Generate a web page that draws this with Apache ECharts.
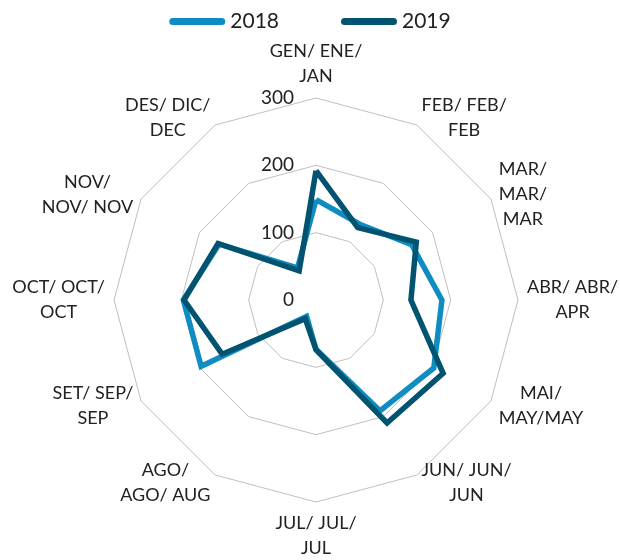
<!DOCTYPE html>
<html>
<head>
<meta charset="utf-8">
<script src="https://cdn.jsdelivr.net/npm/echarts@6/dist/echarts.min.js"></script>
<style>html,body{margin:0;padding:0;background:#fff;}</style>
</head>
<body>
<div id="radar_con" style="width:620px;height:560px;"></div>
<script>
var months = [
    'GEN/ ENE/\nJAN', 'FEB/ FEB/\nFEB', 'MAR/\nMAR/\nMAR', 'ABR/ ABR/\nAPR',
    'MAI/\nMAY/MAY', 'JUN/ JUN/\nJUN', 'JUL/ JUL/\nJUL', 'AGO/\nAGO/ AUG',
    'SET/ SEP/\nSEP', 'OCT/ OCT/\nOCT', 'NOV/\nNOV/ NOV', 'DES/ DIC/\nDEC'
];
var values2018 = [149, 130, 164, 187, 202, 190, 73, 28, 197, 197, 166, 55];
var values2019 = [192, 124, 172, 141, 218, 211, 74, 32, 161, 196, 168, 50];
var ringTicks = [0, 100, 200, 300];

// echarts radar runs counter-clockwise, excel runs clockwise
function clockwise(arr) {
    return [arr[0]].concat(arr.slice(1).reverse());
}

var axisMax = ringTicks[ringTicks.length - 1];
var step = ringTicks[1] - ringTicks[0];

var option = {
    animation: false,
    textStyle: { fontFamily: 'Lato' },
    legend: {
        top: 6,
        left: 'center',
        itemWidth: 56,
        itemHeight: 7,
        itemGap: 62,
        icon: 'path://M3.5,0 H52.5 A3.5,3.5 0 0 1 52.5,7 H3.5 A3.5,3.5 0 0 1 3.5,0 Z',
        textStyle: { fontSize: 21, color: '#222', fontFamily: 'Lato' },
        data: ['2018', '2019']
    },
    radar: {
        center: [316, 300],
        radius: 202,
        startAngle: 90,
        shape: 'polygon',
        splitNumber: ringTicks.length - 1,
        axisNameGap: 9,
        indicator: clockwise(months).map(function (m) {
            return { name: m, min: 0, max: axisMax };
        }),
        axisName: {
            color: '#222',
            fontSize: 18,
            fontFamily: 'Lato',
            lineHeight: 25,
            formatter: function (name) {
                return name.split('\n').map(function (s) {
                    return '{c|' + s + '}';
                }).join('\n');
            },
            rich: {
                c: { align: 'center', fontSize: 18, lineHeight: 25, color: '#222', fontFamily: 'Lato' }
            }
        },
        axisLine: { show: false },
        axisTick: { show: false },
        axisLabel: { show: false },
        splitArea: { show: false },
        splitLine: { lineStyle: { color: '#bfbfbf', width: 1 } }
    },
    // polar only used to put the 0/100/200/300 labels on the top spoke
    polar: { center: [316, 300], radius: 202 },
    angleAxis: { show: false, min: 0, max: 360, startAngle: 90 },
    radiusAxis: {
        min: 0,
        max: axisMax,
        interval: step,
        axisLine: { show: false },
        axisTick: { show: false },
        splitLine: { show: false },
        axisLabel: { show: true, margin: 22, fontSize: 19, color: '#222', fontFamily: 'Lato' }
    },
    series: [{
        type: 'radar',
        symbol: 'none',
        data: [{
            name: '2018',
            value: clockwise(values2018),
            lineStyle: { color: '#0f8dc2', width: 5.5, join: 'miter' },
            itemStyle: { color: '#0f8dc2' }
        }, {
            name: '2019',
            value: clockwise(values2019),
            lineStyle: { color: '#02536f', width: 5.5, join: 'miter' },
            itemStyle: { color: '#02536f' }
        }]
    }]
};

var radarChart = echarts.init(document.getElementById('radar_con'));
radarChart.setOption(option);
</script>
</body>
</html>
